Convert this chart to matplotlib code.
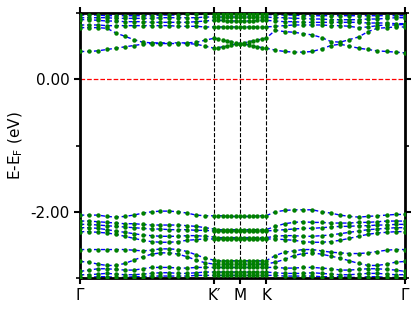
import numpy as np
import matplotlib
matplotlib.use("Agg")
import matplotlib.pyplot as plt

# High-symmetry points (path positions) and labels
kpt_labels = ["Γ", "K′", "M", "K", "Γ"]
kpt_pos = [0.0, 134.0, 160.0, 186.0, 325.0]
seg_npts = [16, 6, 6, 15]  # k-points per segment (first one includes start)

# Conduction bands (eV), left segment / K'-M-K / right segment
c1 = [0.42,0.42,0.43,0.45,0.47,0.49,0.51,0.53,0.54,0.54,0.54,0.54,0.54,0.53,0.50,0.47] + \
     [0.48,0.49,0.50,0.52,0.53,0.54, 0.53,0.52,0.50,0.49,0.48,0.47] + \
     [0.44,0.42,0.41,0.41,0.42,0.46,0.51,0.53,0.50,0.47,0.45,0.43,0.42,0.41,0.40]
c2 = [0.78,0.78,0.78,0.77,0.70,0.65,0.60,0.56,0.55,0.55,0.55,0.55,0.55,0.56,0.59,0.62] + \
     [0.61,0.59,0.58,0.57,0.55,0.54, 0.55,0.57,0.58,0.59,0.61,0.62] + \
     [0.74,0.72,0.71,0.69,0.67,0.63,0.57,0.56,0.60,0.64,0.72,0.77,0.78,0.79,0.79]
c3 = [0.82,0.82,0.82,0.81,0.81,0.81,0.81,0.81,0.81,0.81,0.81,0.80,0.80,0.80,0.79,0.79] + \
     [0.79,0.79,0.79,0.79,0.79,0.79, 0.79,0.79,0.79,0.79,0.79,0.79] + \
     [0.80,0.81,0.82,0.82,0.82,0.82,0.81,0.81,0.80,0.78,0.79,0.81,0.82,0.82,0.83]
c4 = [0.90,0.90,0.89,0.88,0.88,0.87,0.87,0.87,0.86,0.86,0.86,0.86,0.86,0.87,0.88,0.89] + \
     [0.89,0.89,0.88,0.88,0.88,0.88, 0.88,0.88,0.88,0.89,0.89,0.89] + \
     [0.88,0.87,0.87,0.86,0.86,0.86,0.86,0.86,0.86,0.86,0.85,0.85,0.85,0.84,0.84]
c5 = [0.93,0.93,0.93,0.93,0.92,0.92,0.92,0.92,0.92,0.93,0.93,0.93,0.93,0.93,0.94,0.94] + \
     [0.94,0.94,0.94,0.94,0.94,0.94, 0.94,0.94,0.94,0.94,0.94,0.94] + \
     [0.93,0.93,0.92,0.92,0.91,0.91,0.90,0.90,0.90,0.90,0.91,0.91,0.92,0.93,0.93]
c6 = [0.97,0.97,0.97,0.96,0.96,0.96,0.96,0.96,0.96,0.97,0.97,0.97,0.98,0.98,0.98,0.98] + \
     [0.98,0.98,0.98,0.98,0.98,0.98, 0.98,0.98,0.98,0.98,0.98,0.98] + \
     [0.97,0.97,0.97,0.96,0.96,0.96,0.96,0.96,0.96,0.96,0.96,0.96,0.96,0.96,0.96]

# Valence bands (eV)
v1 = [-2.05,-2.05,-2.05,-2.07,-2.08,-2.07,-2.05,-2.02,-2.00,-1.99,-1.99,-2.00,-2.02,-2.05,-2.06,-2.06] + \
     [-2.06,-2.06,-2.07,-2.07,-2.07,-2.07, -2.07,-2.07,-2.07,-2.06,-2.06,-2.06] + \
     [-2.00,-1.98,-1.97,-1.97,-1.97,-2.00,-2.02,-2.05,-2.07,-2.08,-2.07,-2.06,-2.05,-2.04,-2.04]
v2 = [-2.14,-2.14,-2.15,-2.16,-2.17,-2.18,-2.18,-2.19,-2.20,-2.20,-2.20,-2.20,-2.21,-2.22,-2.24,-2.26] + \
     [-2.27,-2.27,-2.27,-2.27,-2.27,-2.27, -2.27,-2.27,-2.27,-2.27,-2.27,-2.27] + \
     [-2.22,-2.18,-2.16,-2.15,-2.16,-2.16,-2.17,-2.17,-2.17,-2.16,-2.16,-2.15,-2.14,-2.14,-2.14]
v3 = [-2.19,-2.19,-2.20,-2.21,-2.22,-2.23,-2.24,-2.25,-2.26,-2.26,-2.27,-2.27,-2.27,-2.28,-2.28,-2.29] + \
     [-2.29,-2.29,-2.29,-2.29,-2.29,-2.29, -2.29,-2.29,-2.29,-2.29,-2.29,-2.29] + \
     [-2.28,-2.27,-2.26,-2.25,-2.25,-2.24,-2.23,-2.22,-2.22,-2.21,-2.21,-2.20,-2.20,-2.19,-2.19]
v4 = [-2.24,-2.24,-2.25,-2.27,-2.29,-2.31,-2.33,-2.35,-2.36,-2.37,-2.37,-2.37,-2.36,-2.36,-2.37,-2.38] + \
     [-2.39,-2.39,-2.39,-2.39,-2.39,-2.39, -2.39,-2.39,-2.39,-2.39,-2.39,-2.39] + \
     [-2.37,-2.36,-2.36,-2.37,-2.37,-2.36,-2.35,-2.33,-2.31,-2.29,-2.27,-2.26,-2.25,-2.24,-2.24]
v5 = [-2.30,-2.30,-2.31,-2.32,-2.34,-2.37,-2.40,-2.43,-2.45,-2.46,-2.46,-2.45,-2.43,-2.42,-2.41,-2.41] + \
     [-2.41,-2.41,-2.41,-2.41,-2.41,-2.41, -2.41,-2.41,-2.41,-2.41,-2.41,-2.41] + \
     [-2.41,-2.42,-2.43,-2.45,-2.46,-2.46,-2.45,-2.43,-2.40,-2.37,-2.34,-2.32,-2.31,-2.30,-2.30]
v6 = [-2.57,-2.57,-2.57,-2.57,-2.57,-2.57,-2.58,-2.59,-2.58,-2.56,-2.56,-2.57,-2.60,-2.65,-2.70,-2.73] + \
     [-2.74,-2.74,-2.74,-2.74,-2.74,-2.74, -2.74,-2.74,-2.74,-2.74,-2.74,-2.74] + \
     [-2.66,-2.61,-2.59,-2.57,-2.57,-2.59,-2.61,-2.62,-2.63,-2.63,-2.62,-2.60,-2.58,-2.57,-2.57]
v7 = [-2.75,-2.76,-2.79,-2.81,-2.81,-2.78,-2.73,-2.68,-2.64,-2.62,-2.62,-2.64,-2.68,-2.73,-2.77,-2.79] + \
     [-2.79,-2.79,-2.79,-2.79,-2.79,-2.79, -2.79,-2.79,-2.79,-2.79,-2.79,-2.79] + \
     [-2.76,-2.72,-2.66,-2.63,-2.62,-2.64,-2.67,-2.70,-2.74,-2.78,-2.81,-2.81,-2.79,-2.76,-2.75]
v8 = [-2.90,-2.88,-2.86,-2.86,-2.87,-2.88,-2.88,-2.86,-2.84,-2.84,-2.84,-2.85,-2.85,-2.84,-2.84,-2.84] + \
     [-2.84,-2.84,-2.84,-2.84,-2.84,-2.84, -2.84,-2.84,-2.84,-2.84,-2.84,-2.84] + \
     [-2.84,-2.85,-2.85,-2.84,-2.84,-2.85,-2.86,-2.88,-2.88,-2.87,-2.86,-2.86,-2.87,-2.88,-2.90]
v9 = [-2.95,-2.95,-2.94,-2.93,-2.94,-2.95,-2.95,-2.94,-2.93,-2.92,-2.92,-2.93,-2.93,-2.92,-2.91,-2.91] + \
     [-2.91,-2.91,-2.91,-2.91,-2.91,-2.91, -2.91,-2.91,-2.91,-2.91,-2.91,-2.91] + \
     [-2.92,-2.93,-2.93,-2.93,-2.92,-2.93,-2.94,-2.95,-2.95,-2.94,-2.93,-2.93,-2.94,-2.95,-2.95]
v10 = [-3.00,-2.99,-2.98,-2.98,-2.99,-2.99,-2.98,-2.98,-2.97,-2.97,-2.97,-2.97,-2.97,-2.96,-2.96,-2.96] + \
      [-2.96,-2.96,-2.96,-2.96,-2.96,-2.96, -2.96,-2.96,-2.96,-2.96,-2.96,-2.96] + \
      [-2.96,-2.97,-2.97,-2.97,-2.97,-2.98,-2.98,-2.98,-2.99,-2.99,-2.98,-2.98,-2.99,-2.99,-3.00]

bands = [c1, c2, c3, c4, c5, c6, v1, v2, v3, v4, v5, v6, v7, v8, v9, v10]

# k-path coordinates (evenly spaced points along each segment)
kpath = [np.linspace(kpt_pos[0], kpt_pos[1], seg_npts[0])]
for i in range(1, 4):
    kpath.append(np.linspace(kpt_pos[i], kpt_pos[i + 1], seg_npts[i] + 1)[1:])
k = np.concatenate(kpath)

fig = plt.figure(figsize=(4.15, 3.11), dpi=100)
ax = fig.add_axes([0.193, 0.106, 0.783, 0.852])

for b in bands:
    ax.plot(k, b, linestyle=(0, (3, 2)), color="blue", lw=1.0, zorder=2)
    ax.plot(k, b, "o", color="green", markersize=3.2, markeredgewidth=0, zorder=3)

ax.axhline(0.0, color="red", linestyle="--", lw=0.9, zorder=1)
for xp in kpt_pos[1:4]:
    ax.axvline(xp, color="black", linestyle="--", lw=0.8, zorder=1)

ax.set_xlim(kpt_pos[0], kpt_pos[-1])
ax.set_ylim(-3.0, 1.0)
ax.set_xticks(kpt_pos)
ax.set_xticklabels(kpt_labels, fontsize=11)
ax.set_yticks([-2.0, 0.0])
ax.set_yticklabels(["-2.00", "0.00"], fontsize=11)
ax.set_yticks([-3.0, -1.0, 1.0], minor=True)
ax.tick_params(axis="both", which="major", direction="out", length=4, width=1.5,
               top=True, right=True)
ax.tick_params(axis="y", which="minor", direction="out", length=3, width=1.2, right=True)
ax.set_ylabel("E-E$_\\mathrm{F}$ (eV)", fontsize=11)
for s in ax.spines.values():
    s.set_linewidth(2.0)

fig.savefig("out.png", dpi=100)
